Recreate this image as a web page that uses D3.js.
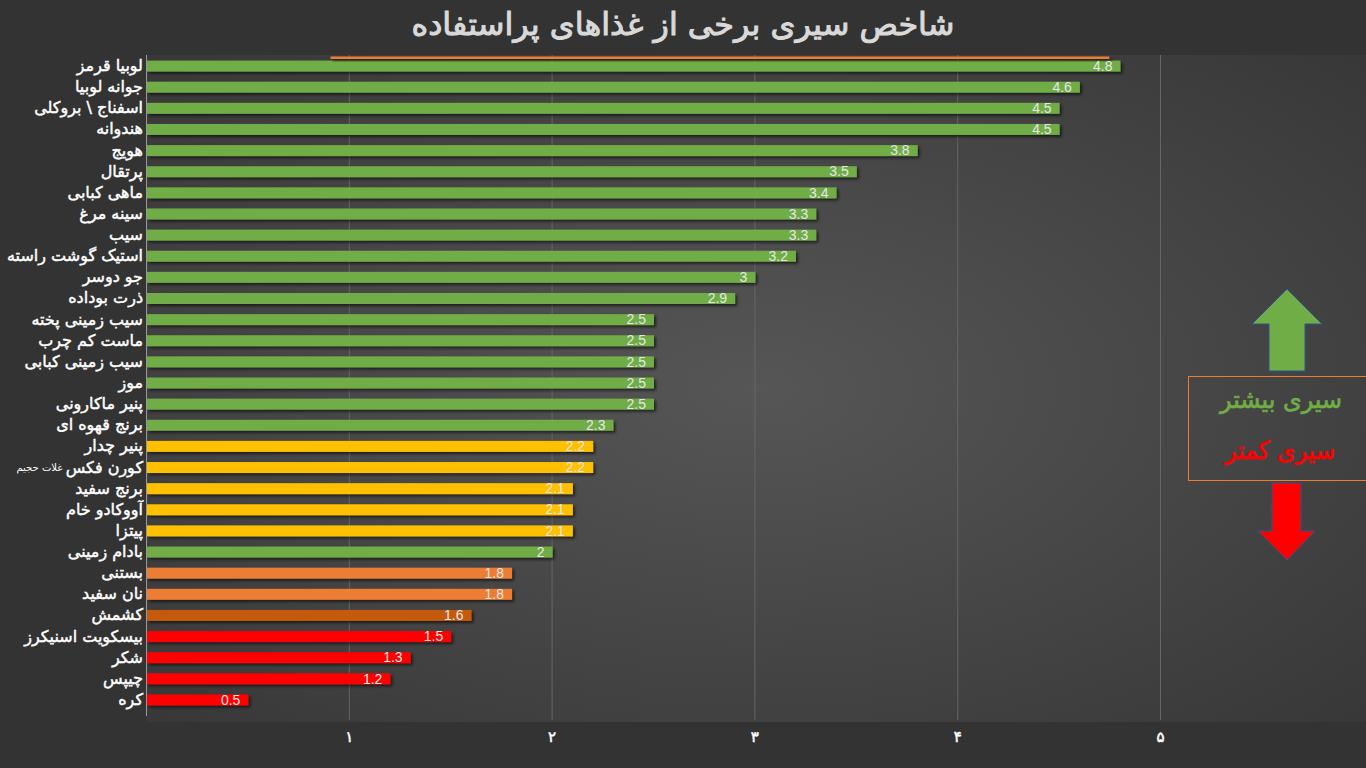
<!DOCTYPE html>
<html><head><meta charset="utf-8">
<script src="https://cdn.jsdelivr.net/npm/d3@7"></script>
<style>html,body{margin:0;padding:0;background:#333;}svg{display:block;}</style>
</head><body>
<svg id="c" width="1366" height="768"></svg>
<script>
const categories = ["لوبیا قرمز","جوانه لوبیا","اسفناج \\ بروکلی","هندوانه","هویج","پرتقال","ماهی کبابی","سینه مرغ","سیب","استیک گوشت راسته","جو دوسر","ذرت بوداده","سیب زمینی پخته","ماست کم چرب","سیب زمینی کبابی","موز","پنیر ماکارونی","برنج قهوه ای","پنیر چدار","کورن فکس","برنج سفید","آووکادو خام","پیتزا","بادام زمینی","بستنی","نان سفید","کشمش","بیسکویت اسنیکرز","شکر","چیپس","کره"];
const subLabels = {"کورن فکس":"غلات حجیم"};
const values = [4.8,4.6,4.5,4.5,3.8,3.5,3.4,3.3,3.3,3.2,3,2.9,2.5,2.5,2.5,2.5,2.5,2.3,2.2,2.2,2.1,2.1,2.1,2,1.8,1.8,1.6,1.5,1.3,1.2,0.5];
const tiers = ["high","high","high","high","high","high","high","high","high","high","high","high","high","high","high","high","high","high","mid","mid","mid","mid","mid","high","lowmid","lowmid","low2","low","low","low","low"];
const tierNames = ["high","mid","lowmid","low2","low"];
const tierColors = ["#70ad47","#ffc000","#ed7d31","#c55a11","#ff0000"];
const tickValues = [1,2,3,4,5];
const tickLabels = ["۱","۲","۳","۴","۵"];
const refLine = [0.91,4.75];
const title = "شاخص سیری برخی از غذاهای پراستفاده";
const legendMore = "سیری بیشتر";
const legendLess = "سیری کمتر";

const svg = d3.select("#c");
const W = 1366, H = 768;
const AR = "'DejaVu Sans',sans-serif";
const defs = svg.append("defs");
const rg = defs.append("radialGradient").attr("id","pg").attr("cx","0.5").attr("cy","0.5").attr("r","0.7");
rg.append("stop").attr("offset","0%").attr("stop-color","#565656");
rg.append("stop").attr("offset","100%").attr("stop-color","#383838");
const f = defs.append("filter").attr("id","sh").attr("x","-5%").attr("y","-50%").attr("width","120%").attr("height","250%");
f.append("feDropShadow").attr("dx",2).attr("dy",2).attr("stdDeviation",1.5).attr("flood-color","#000").attr("flood-opacity",0.6);

svg.append("rect").attr("width",W).attr("height",H).attr("fill","#333");
const plot = {left:146, top:55, right:1366, bottom:722};
svg.append("rect").attr("x",plot.left).attr("y",plot.top).attr("width",plot.right-plot.left).attr("height",plot.bottom-plot.top).attr("fill","url(#pg)");

const x = d3.scaleLinear().domain([0,5]).range([146,1160]);
const y = d3.scaleBand().domain(categories).range([55.5,710.5]).paddingInner(0.48).paddingOuter(0.24);
const color = d3.scaleOrdinal().domain(tierNames).range(tierColors);

// gridlines
svg.append("g").selectAll("line").data(tickValues).join("line")
  .attr("x1",d=>x(d)+0.5).attr("x2",d=>x(d)+0.5).attr("y1",plot.top).attr("y2",plot.bottom-2)
  .attr("stroke","#666").attr("stroke-width",1);
svg.append("line").attr("x1",x(0)+0.5).attr("x2",x(0)+0.5).attr("y1",plot.top).attr("y2",plot.bottom-6).attr("stroke","#9a9a9a");

// bars
svg.append("g").selectAll("rect").data(categories).join("rect")
  .attr("x",x(0)+1).attr("y",d=>y(d)).attr("height",y.bandwidth())
  .attr("width",(d,i)=>x(values[i])-x(0))
  .attr("fill",(d,i)=>color(tiers[i])).attr("filter","url(#sh)");

// ref line
svg.append("rect").attr("x",x(refLine[0])).attr("y",56.5).attr("width",x(refLine[1])-x(refLine[0])).attr("height",2.5)
  .attr("fill","#ed7d31").attr("filter","url(#sh)");

// value labels
svg.append("g").selectAll("text").data(categories).join("text")
  .attr("x",(d,i)=>x(values[i])-7).attr("y",d=>y(d)+y.bandwidth()/2+1)
  .attr("text-anchor","end").attr("dominant-baseline","middle")
  .attr("font-family","'Liberation Sans Narrow','Liberation Sans',sans-serif").attr("font-size",14)
  .attr("fill","#e6e6e6").text((d,i)=>values[i]);

// category labels
const lab = svg.append("g").selectAll("text").data(categories).join("text")
  .attr("x",143).attr("y",d=>y(d)+y.bandwidth()/2)
  .attr("direction","rtl").attr("text-anchor","start").attr("dominant-baseline","middle")
  .attr("font-family",AR).attr("font-size",16)
  .attr("fill","#ffffff").attr("stroke","#ffffff").attr("stroke-width",0.45);
lab.append("tspan").text(d=>d);
lab.filter(d=>subLabels[d]).append("tspan").attr("font-size",10).attr("stroke-width",0).text(d=>" "+subLabels[d]);

// x axis tick labels
const ax = d3.axisBottom(x).tickValues(tickValues).tickFormat((d,i)=>tickLabels[i]).tickSize(0);
const axg = svg.append("g").attr("transform","translate(0,728)").call(ax);
axg.select(".domain").remove();
axg.selectAll("text").attr("font-family",AR).attr("font-size",15).attr("fill","#fff").attr("stroke","#fff").attr("stroke-width",0.5);

// title
svg.append("text").attr("x",683).attr("y",26).attr("text-anchor","middle").attr("dominant-baseline","middle")
  .attr("font-family",AR).attr("font-size",31)
  .attr("fill","#d9d9d9").attr("stroke","#d9d9d9").attr("stroke-width",1).attr("direction","rtl")
  .attr("textLength",543).attr("lengthAdjust","spacingAndGlyphs").text(title);

// legend
svg.append("rect").attr("x",1188.5).attr("y",376.5).attr("width",190).attr("height",104).attr("fill","none").attr("stroke","#ed7d31");
svg.append("text").attr("x",1281).attr("y",401).attr("text-anchor","middle").attr("dominant-baseline","middle")
  .attr("font-family",AR).attr("font-size",25).attr("fill","#70ad47").attr("stroke","#70ad47").attr("stroke-width",0.7).attr("direction","rtl")
  .attr("textLength",122).attr("lengthAdjust","spacingAndGlyphs").text(legendMore);
svg.append("text").attr("x",1280).attr("y",452).attr("text-anchor","middle").attr("dominant-baseline","middle")
  .attr("font-family",AR).attr("font-size",25).attr("fill","#ff0000").attr("stroke","#ff0000").attr("stroke-width",0.7).attr("direction","rtl")
  .attr("textLength",110).attr("lengthAdjust","spacingAndGlyphs").text(legendLess);
const up = d3.path();
up.moveTo(1287,289); up.lineTo(1322,324); up.lineTo(1305,324); up.lineTo(1305,371); up.lineTo(1269,371); up.lineTo(1269,324); up.lineTo(1252,324); up.closePath();
svg.append("path").attr("d",up.toString()).attr("fill","#70ad47").attr("stroke","#2f528f").attr("stroke-width",1);
const dn = d3.path();
dn.moveTo(1272,483); dn.lineTo(1301,483); dn.lineTo(1301,531); dn.lineTo(1315,531); dn.lineTo(1287,560); dn.lineTo(1258,531); dn.lineTo(1272,531); dn.closePath();
svg.append("path").attr("d",dn.toString()).attr("fill","#ff0000").attr("stroke","#2f528f").attr("stroke-width",1);
</script>
</body></html>
